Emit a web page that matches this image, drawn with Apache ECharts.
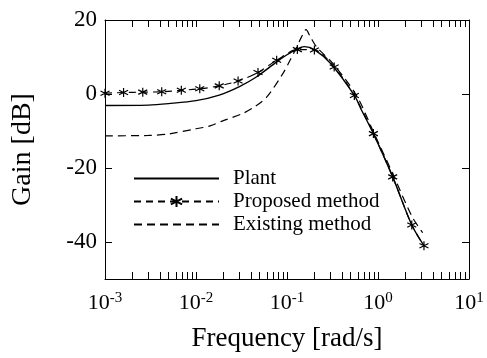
<!DOCTYPE html>
<html>
<head>
<meta charset="utf-8">
<script src="https://cdn.jsdelivr.net/npm/echarts@6/dist/echarts.min.js"></script>
<style>
  html, body { margin: 0; padding: 0; background: #fff; }
  #chart { width: 487px; height: 358px; }
</style>
</head>
<body>
<div id="chart"></div>
<script>
// frequencies in rad/s, gains in dB
const plantFreq = [0.001, 0.003, 0.005, 0.01, 0.018, 0.03, 0.046, 0.077, 0.1, 0.13, 0.155, 0.2, 0.3, 0.55, 0.66, 0.89, 1.45, 2.35, 3.2];
const plantGain = [-3.1, -3.0, -2.6, -1.8, -0.3, 2.0, 4.6, 8.7, 10.6, 12.2, 12.8, 12.0, 8.3, -0.4, -4.4, -10.7, -22.4, -35.4, -41];

const propFreq = [0.001, 0.0016, 0.0026, 0.0042, 0.0069, 0.011, 0.018, 0.029, 0.048, 0.077, 0.13, 0.2, 0.33, 0.55, 0.89, 1.45, 2.35, 3.2];
const propGain = [0.2, 0.4, 0.5, 0.6, 1.0, 1.4, 2.2, 3.5, 5.8, 9.1, 12.0, 11.9, 7.3, -0.4, -10.7, -22.4, -35.4, -41];

const exFreq = [0.001, 0.003, 0.005, 0.01, 0.0143, 0.02, 0.033, 0.045, 0.06, 0.09, 0.108, 0.128, 0.145, 0.162, 0.18, 0.212, 0.32, 0.58, 0.89, 1.45, 2.35, 3.1];
const exGain = [-11.3, -11.2, -10.8, -9.4, -8.6, -7.2, -5.2, -3.3, -0.8, 5.5, 9.1, 12.7, 15.5, 17.4, 15.5, 12.7, 8.2, -0.4, -10.2, -21.5, -33, -37.5];

const seriesNames = ['Plant', 'Proposed method', 'Existing method'];
const yLabels = [-40, -20, 0, 20];

const font = 'Liberation Serif';
const star = 'path://M0,-5L0,5M-4.33,-2.5L4.33,2.5M-4.33,2.5L4.33,-2.5';

const chart = echarts.init(document.getElementById('chart'));

const zip = (f, g) => f.map((v, i) => [v, g[i]]);

// mirror axes: labels kept (blank) so the ticks are drawn
const blankLabel = { show: true, fontSize: 1, color: 'rgba(0,0,0,0)', formatter: () => ' ' };

// decade ticks plus 2..9 minor ticks, all pointing inwards
const xAxisOf = (position, extra) => Object.assign({
  type: 'log',
  min: 0.001,
  max: 10,
  position: position,
  axisLine: { show: true, onZero: false, lineStyle: { color: '#000' } },
  axisTick: { show: true, inside: true, length: 7, lineStyle: { color: '#000' } },
  minorTick: { show: true, splitNumber: 9, length: 7, lineStyle: { color: '#000' } },
  splitLine: { show: false },
}, extra);
const yAxisOf = (position, extra) => Object.assign({
  type: 'value',
  min: -50,
  max: 20,
  position: position,
  axisLine: { show: true, onZero: false, lineStyle: { color: '#000' } },
  axisTick: { show: true, inside: true, length: 7, customValues: yLabels, lineStyle: { color: '#000' } },
  splitLine: { show: false },
}, extra);

chart.setOption({
  animation: false,
  backgroundColor: '#fff',
  grid: { left: 105, right: 18, top: 20, bottom: 79, outerBoundsMode: 'none' },
  legend: {
    orient: 'vertical',
    left: 128,
    top: 163,
    itemWidth: 85,
    itemHeight: 14,
    itemGap: 2,
    data: [
      { name: seriesNames[0], itemStyle: { opacity: 0 } },
      { name: seriesNames[1] },
      { name: seriesNames[2], itemStyle: { opacity: 0 } },
    ],
    textStyle: { fontFamily: font, fontSize: 21, color: '#000', padding: [0, 0, 0, 9] },
  },
  xAxis: [
    xAxisOf('bottom', {
      name: 'Frequency [rad/s]',
      nameLocation: 'middle',
      nameGap: 46,
      nameTextStyle: { fontFamily: font, fontSize: 27, color: '#000' },
      axisLabel: {
        show: true,
        margin: 12,
        formatter: v => '{b|10}{s|' + Math.round(Math.log10(v)) + '}',
        rich: {
          b: { fontFamily: font, fontSize: 22, color: '#000' },
          s: { fontFamily: font, fontSize: 15, color: '#000', verticalAlign: 'bottom', padding: [0, 0, 10, 0] },
        },
      },
    }),
    xAxisOf('top', { axisLabel: blankLabel }),
  ],
  yAxis: [
    yAxisOf('left', {
      name: 'Gain [dB]',
      nameLocation: 'middle',
      nameGap: 68,
      nameTextStyle: { fontFamily: font, fontSize: 28, color: '#000' },
      axisLabel: { customValues: yLabels, margin: 8, fontFamily: font, fontSize: 23, color: '#000' },
    }),
    yAxisOf('right', { axisLabel: Object.assign({ customValues: yLabels }, blankLabel) }),
  ],
  series: [
    {
      name: seriesNames[0],
      type: 'line',
      data: zip(plantFreq, plantGain),
      smooth: 0.3,
      symbol: 'none',
      lineStyle: { color: '#000', width: 1.4 },
      itemStyle: { color: '#000' },
    },
    {
      name: seriesNames[1],
      type: 'line',
      data: zip(propFreq, propGain),
      smooth: 0.3,
      symbol: star,
      symbolSize: 9,
      showAllSymbol: true,
      lineStyle: { color: '#000', width: 1.2, type: [7, 5] },
      itemStyle: { color: 'none', borderColor: '#000', borderWidth: 1.2 },
      z: 3,
    },
    {
      name: seriesNames[2],
      type: 'line',
      data: zip(exFreq, exGain),
      smooth: 0.3,
      symbol: 'none',
      lineStyle: { color: '#000', width: 1.2, type: [8, 5] },
      itemStyle: { color: '#000' },
    },
  ],
});
</script>
</body>
</html>
